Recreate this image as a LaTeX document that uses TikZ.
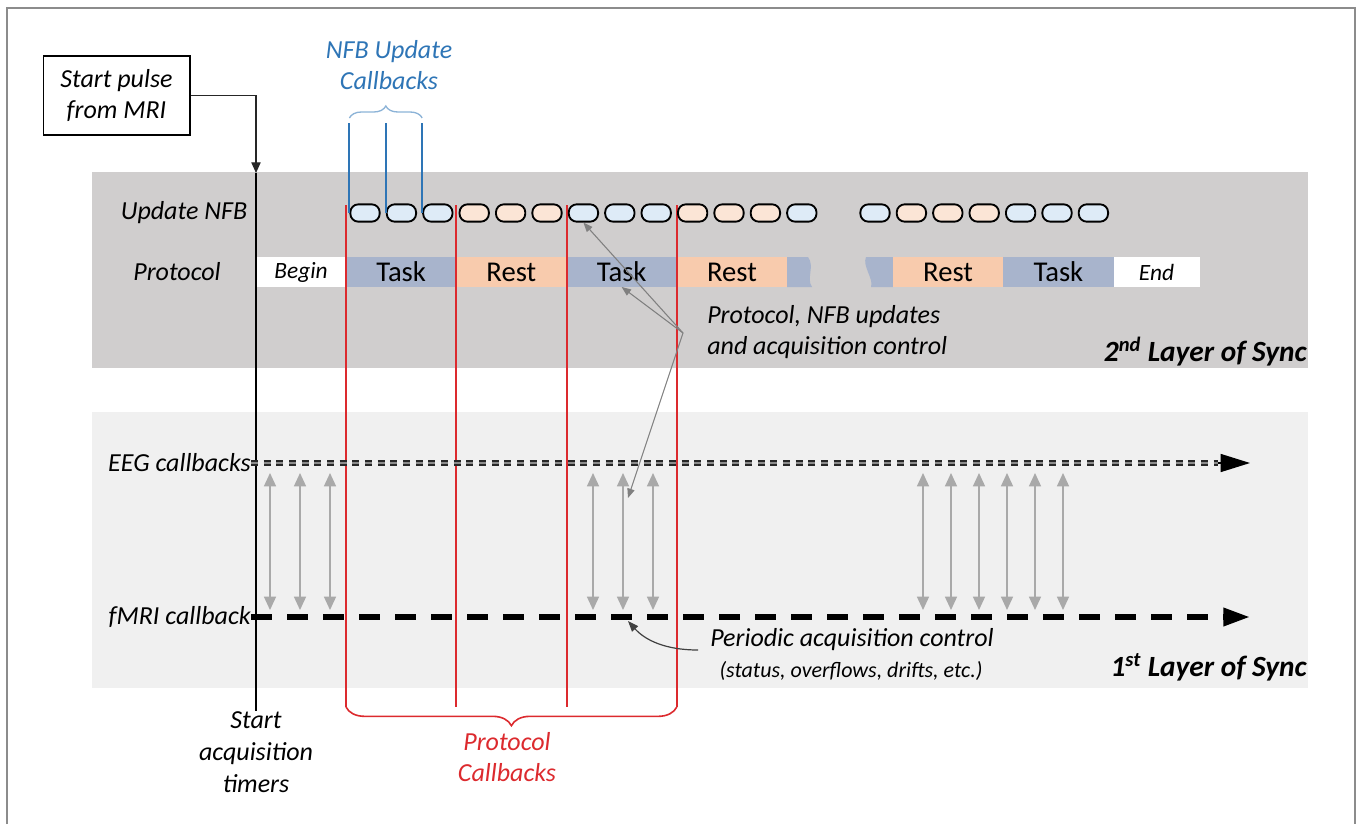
\documentclass[tikz,border=0pt]{standalone}
\usepackage{fontspec}
\setmainfont{Carlito}
\usetikzlibrary{arrows.meta,positioning,decorations.pathreplacing,calc}
\definecolor{layertwo}{HTML}{D0CECE}
\definecolor{layerone}{HTML}{F0F0F0}
\definecolor{taskfill}{HTML}{A8B4CC}
\definecolor{restfill}{HTML}{F8CBAD}
\definecolor{pillblue}{HTML}{DEEBF7}
\definecolor{pillrest}{HTML}{FBE5D6}
\definecolor{nfbblue}{HTML}{2E75B6}
\definecolor{protored}{HTML}{DC2A2E}
\definecolor{syncgray}{HTML}{8C8C8C}

\begin{document}
\begin{tikzpicture}[x=.75pt,y=-.75pt,
 lab/.style={font=\fontsize{19.5}{23}\selectfont\itshape,align=center,inner sep=0pt},
 pill/.style={draw=black,line width=1.4pt,rounded corners=6pt,minimum width=22pt,minimum height=13pt,inner sep=0pt},
 blk/.style={minimum height=22.5pt,minimum width=82.7pt,inner sep=0pt,outer sep=0pt,font=\fontsize{21.5}{24}\selectfont},
 tsk/.style={blk,fill=taskfill},
 rst/.style={blk,fill=restfill},
 endblk/.style={blk,fill=white,font=\fontsize{17.5}{20}\selectfont\itshape},
 nfbline/.style={draw=nfbblue,line width=1.5pt},
 protoline/.style={draw=protored,line width=1.5pt},
 sync/.style={{Triangle[length=10pt,width=9pt]}-{Triangle[length=10pt,width=9pt]},line width=1pt,draw=syncgray!75,fill=syncgray},
 annarr/.style={-{Triangle[length=7pt,width=5.5pt]},line width=.8pt,draw=black!50},
 layertxt/.style={font=\fontsize{22}{26}\selectfont\bfseries\itshape,anchor=east,inner sep=0pt}]
\useasboundingbox (0,0) rectangle (1358,824);
\draw[black!45,line width=.8pt] (7,824) -- (7,8) -- (1355,8) -- (1355,824);
\fill[layertwo] (92,172) rectangle (1308,368);
\fill[layerone] (92,412) rectangle (1308,688);
\node[blk,fill=white,minimum width=67.5pt,font=\fontsize{17.5}{20}\selectfont\itshape] (beg) at (301,272) {Begin};
\node[tsk,right=0pt of beg] (t1) {Task};
\node[rst,right=0pt of t1] (r1) {Rest};
\node[tsk,right=0pt of r1] (t2) {Task};
\node[rst,right=0pt of t2] (r2) {Rest};
\coordinate (redtop) at (0,205);
\coordinate (redbot) at (0,707);
\foreach \b in {t1,r1,t2,r2}
 \draw[protoline] (\b.west |- redtop) -- (\b.west |- redbot);
\fill[taskfill] (787,257) -- (808,257) .. controls (815,266) and (806,279) .. (812,287) -- (787,287) -- cycle;
\fill[taskfill] (866,257) -- (893,257) -- (893,287) -- (871,287) .. controls (874,279) and (862,266) .. (866,257) -- cycle;
\node[rst,anchor=west] (r3) at (893,272) {Rest};
\node[tsk,right=0pt of r3] (t3) {Task};
\node[endblk,minimum width=64.5pt,right=0pt of t3] (fin) {End};
\foreach \c [count=\i from 0] in {pillblue,pillblue,pillblue,pillrest,pillrest,pillrest,pillblue,pillblue,pillblue,pillrest,pillrest,pillrest,pillblue}
 \node[pill,fill=\c] (p\i) at (365+36.4*\i,213) {};
\foreach \c [count=\i from 0] in {pillblue,pillrest,pillrest,pillrest,pillblue,pillblue,pillblue}
 \node[pill,fill=\c] (q\i) at (875+36.4*\i,213) {};
\node[lab] (updnfb) at (184,213) {Update NFB};
\node[lab] (proto) at (177,272) {Protocol};
\node[lab,text=nfbblue] (nfbtxt) at (389,65) {NFB Update\\Callbacks};
\coordinate (nfbtop) at (0,123);
\foreach \i in {0,1,2}
 \draw[nfbline] (p\i.west) -- (p\i.west |- nfbtop);
\draw[nfbblue!55,line width=1pt,decorate,decoration={brace,amplitude=9pt}] ($(p0.west |- nfbtop)+(0,-5)$) -- ($(p2.west |- nfbtop)+(0,-5)$);
\draw[protored,line width=1.2pt,decorate,decoration={brace,amplitude=14pt}] (r2.west |- redbot) -- (t1.west |- redbot);
\node[lab,text=protored] (protocb) at (507,757) {Protocol\\Callbacks};
\node[lab,draw,line width=1pt,minimum width=110pt,minimum height=59pt] (pulse) at (116.5,95.5) {Start pulse\\from MRI};
\node[lab,font=\fontsize{19.5}{24}\selectfont\itshape] (timers) at (256,752) {Start\\acquisition\\timers};
\coordinate (tltop) at (256,173);
\draw[-{Triangle[length=8pt,width=7pt]},line width=.8pt,black!85] (pulse.east) -| (tltop);
\draw[line width=1.1pt] (tltop) -- (timers.north);
\node[lab,anchor=east] (eeg) at (251,463) {EEG callbacks};
\node[lab,anchor=east] (fmri) at (251,617) {fMRI callback};
\coordinate (eegend) at (1218,463);
\coordinate (fmriend) at (1250,617);
\draw[line width=1.5pt,black!85,double=black!45,double distance=.8pt,dash pattern=on 5.2pt off 4.3pt] (eeg.east) -- (eegend);
\draw[-{Triangle[length=22pt,width=13.5pt]},line width=1pt] (eegend) -- ++(32,0);
\draw[line width=4.2pt,dash pattern=on 16pt off 11pt,-{Triangle[length=20pt,width=13pt]}] (fmri.east) -- (fmriend);
\foreach \x in {270,300,330,593,623,653,923,951,979,1007,1035,1063}
 \draw[sync] (\x,473) -- (\x,610);
\node[lab,anchor=west,align=left] (annot) at (707,332) {Protocol, NFB updates\\and acquisition control};
\coordinate (annpt) at (683,333);
\coordinate (syncpt) at (628,498);
\draw[annarr] (annpt) -- (p6.south);
\draw[annarr] (annpt) -- (t2.south);
\draw[annarr] (annpt) -- (syncpt);
\node[lab,anchor=west] (periodic) at (710,640) {Periodic acquisition control};
\node[font=\fontsize{16.5}{19}\selectfont\itshape,inner sep=0pt] (status) at (851,671) {(status, overflows, drifts, etc.)};
\coordinate (perstart) at (698,650);
\coordinate (fmript) at (628,621);
\draw[-{Triangle[length=8pt,width=6pt]},line width=.9pt,black!75] (perstart) .. controls (665,650) and (645,640) .. (fmript);
\node[layertxt] (layer2) at (1307,352) {2\textsuperscript{nd} Layer of Sync};
\node[layertxt] (layer1) at (1307,667) {1\textsuperscript{st} Layer of Sync};
\end{tikzpicture}
\end{document}
